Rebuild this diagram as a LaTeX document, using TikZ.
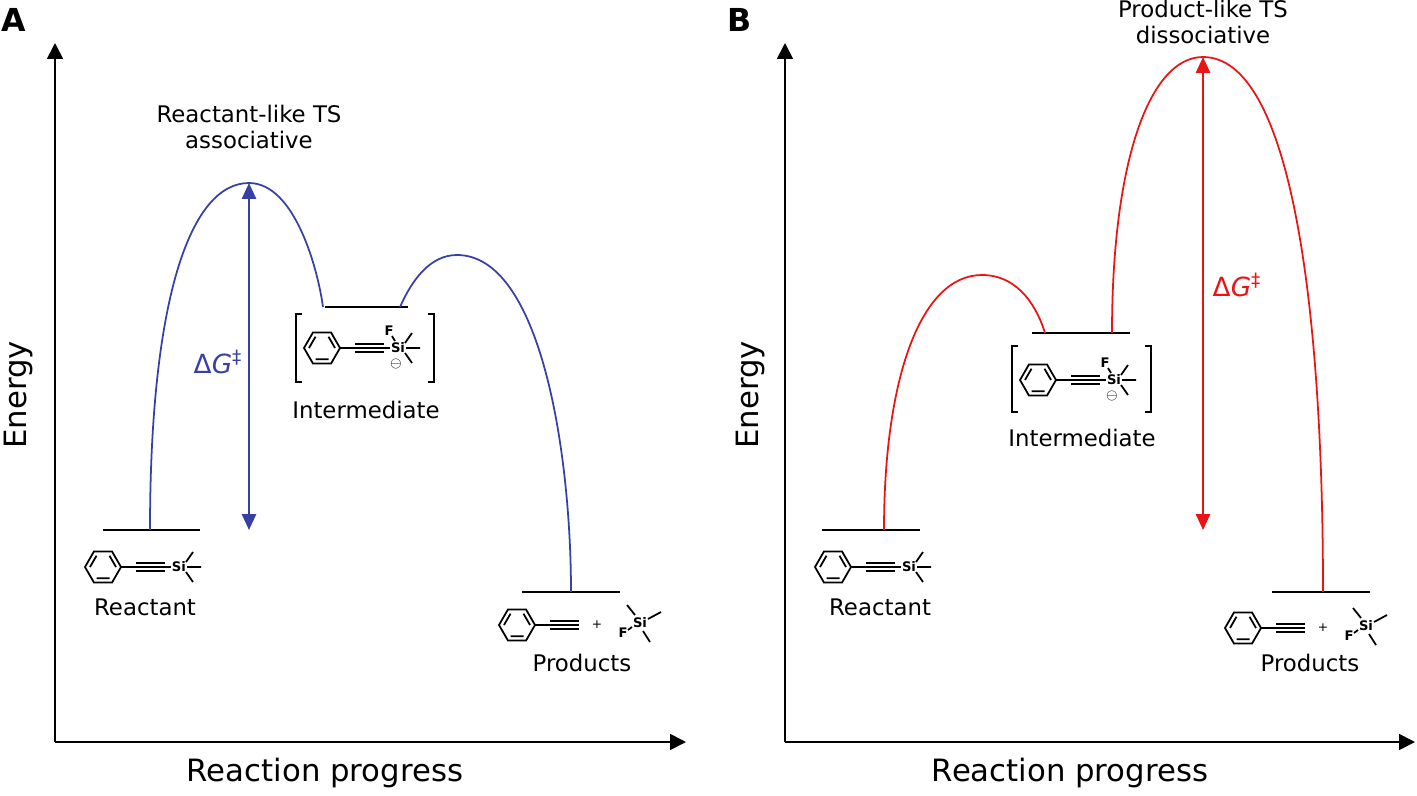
\documentclass[tikz,border=0pt]{standalone}
\usepackage{fontspec}
\setmainfont{DejaVu Sans}
\usetikzlibrary{arrows.meta}
\definecolor{cblue}{RGB}{55,65,165}
\definecolor{cred}{RGB}{235,20,20}
\tikzset{
  lvl/.style={line width=1.4pt,black},
  axis/.style={line width=1pt,-{Triangle[length=9pt,width=9pt]}},
  curveA/.style={line width=1pt,cblue},
  curveB/.style={line width=1pt,cred},
  lab/.style={font=\fontsize{13}{15}\selectfont},
  big/.style={font=\fontsize{17.5}{19}\selectfont},
  atom/.style={font=\fontsize{7.5}{8}\selectfont\bfseries,inner sep=0.5pt},
  mol/.style={line width=1pt},
  phyne/.pic={
    \draw[mol] (0:18) -- (60:18) -- (120:18) -- (180:18) -- (240:18) -- (300:18) -- cycle;
    \draw[mol] (60:13) -- (120:13) (180:13) -- (240:13) (300:13) -- (0:13);
    \draw[mol] (18,0) -- (33,0);
    \draw[mol] (33,0) -- (62,0) (33,-4) -- (62,-4) (33,4) -- (62,4);
  },
  silyl/.pic={
    \pic at (0,0) {phyne};
    \draw[mol] (62,0) -- (68,0);
    \node[atom] (si) at (76,0) {Si};
    \draw[mol] (84,0) -- (98,0) (83,-5) -- (90,-15) (83,5) -- (90,15);
  },
  inter/.pic={
    \pic at (0,0) {phyne};
    \draw[mol] (62,0) -- (68,0);
    \node[atom] at (76,0) {Si};
    \node[atom] at (67,-17) {F};
    \draw[mol] (70,-12) -- (73,-7);
    \draw[mol] (84,0) -- (98,0) (83,-5) -- (90,-15) (83,5) -- (90,15);
    \node[inner sep=0pt,font=\fontsize{8}{8}\selectfont] at (74,16) {$\ominus$};
  },
  prod/.pic={
    \pic at (0,0) {phyne};
    \node[atom,font=\fontsize{7}{7}\selectfont] at (80,0) {+};
    \node[atom] at (106,8) {F};
    \node[atom] at (123,-2) {Si};
    \draw[mol] (111,5) -- (115,2) (118,-10) -- (110,-20) (131,-6) -- (144,-13) (126,6) -- (133,17);
  }
}
\begin{document}
\begin{tikzpicture}[x=0.02cm,y=-0.02cm]
\useasboundingbox (0,0) rectangle (1417,795);
% Panel labels
\node[font=\fontsize{18}{19}\selectfont\bfseries] (pa) at (14,20) {A};
\node[font=\fontsize{18}{19}\selectfont\bfseries] (pb) at (740,20) {B};
% ===== Panel A =====
\coordinate (oA) at (55,742);
\coordinate (yA) at (55,43);
\coordinate (xA) at (686,742);
\draw[axis] (oA) -- (yA);
\draw[axis] (oA) -- (xA);
\node[big,rotate=90] (eA) at (18,395) {Energy};
\node[big] (rpA) at (325,773) {Reaction progress};
\coordinate (rA1) at (103,530); \coordinate (rA2) at (200,530);
\coordinate (iA1) at (325,307); \coordinate (iA2) at (408,307);
\coordinate (pA1) at (522,592); \coordinate (pA2) at (620,592);
\draw[lvl] (rA1) -- (rA2);
\draw[lvl] (iA1) -- (iA2);
\draw[lvl] (pA1) -- (pA2);
\draw[curveA] (150,530) .. controls (150,300) and (190,183) .. (249,183)
  .. controls (295,183) and (318,270) .. (323,307);
\draw[curveA] (400,307) .. controls (412,280) and (430,255) .. (457,255)
  .. controls (540,255) and (571,450) .. (571,592);
\draw[cblue,line width=1.3pt,{Triangle[length=9pt,width=8pt]}-{Triangle[length=9pt,width=8pt]}] (249,183) -- (249,530);
\node[font=\fontsize{15}{17}\selectfont,cblue] (dgA) at (218,362) {Δ\textit{G}\textsuperscript{‡}};
\node[lab,align=center] (tsA) at (249,127) {Reactant-like TS\\associative};
\pic at (103,567) {silyl};
\node[lab] (reA) at (145,607) {Reactant};
\draw[mol] (302,314) -- (296,314) -- (296,382) -- (302,382);
\draw[mol] (428,314) -- (434,314) -- (434,382) -- (428,382);
\pic at (322,348) {inter};
\node[lab] (inA) at (366,410) {Intermediate};
\pic at (517,625) {prod};
\node[lab] (prA) at (582,663) {Products};
% ===== Panel B =====
\coordinate (oB) at (785,742);
\coordinate (yB) at (785,43);
\coordinate (xB) at (1415,742);
\draw[axis] (oB) -- (yB);
\draw[axis] (oB) -- (xB);
\node[big,rotate=90] (eB) at (750,395) {Energy};
\node[big] (rpB) at (1070,773) {Reaction progress};
\coordinate (rB1) at (822,530); \coordinate (rB2) at (920,530);
\coordinate (iB1) at (1032,333); \coordinate (iB2) at (1130,333);
\coordinate (pB1) at (1272,592); \coordinate (pB2) at (1370,592);
\draw[lvl] (rB1) -- (rB2);
\draw[lvl] (iB1) -- (iB2);
\draw[lvl] (pB1) -- (pB2);
\draw[curveB] (884,530) .. controls (884,380) and (920,275) .. (982,275)
  .. controls (1020,275) and (1038,310) .. (1045,333);
\draw[curveB] (1112,333) .. controls (1112,160) and (1150,57) .. (1203,57)
  .. controls (1290,57) and (1323,300) .. (1323,592);
\draw[cred,line width=1.3pt,{Triangle[length=9pt,width=8pt]}-{Triangle[length=9pt,width=8pt]}] (1203,57) -- (1203,530);
\node[font=\fontsize{15}{17}\selectfont,cred] (dgB) at (1237,285) {Δ\textit{G}\textsuperscript{‡}};
\node[lab,align=center] (tsB) at (1203,22) {Product-like TS\\dissociative};
\pic at (833,567) {silyl};
\node[lab] (reB) at (880,607) {Reactant};
\draw[mol] (1018,346) -- (1012,346) -- (1012,412) -- (1018,412);
\draw[mol] (1145,346) -- (1151,346) -- (1151,412) -- (1145,412);
\pic at (1038,380) {inter};
\node[lab] (inB) at (1082,438) {Intermediate};
\pic at (1243,628) {prod};
\node[lab] (prB) at (1310,663) {Products};
\end{tikzpicture}
\end{document}
